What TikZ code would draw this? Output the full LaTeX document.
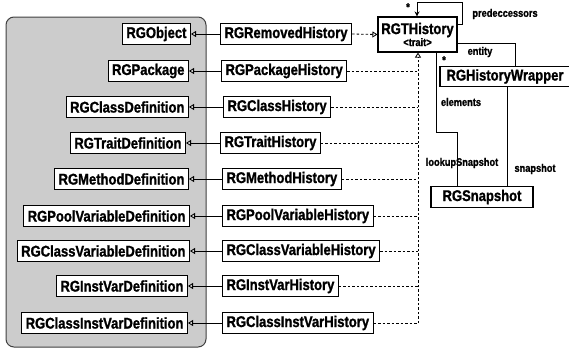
\documentclass[tikz,border=0pt]{standalone}
\usepackage{fontspec}
\setmainfont{Liberation Sans}[FakeStretch=0.84, BoldFeatures={FakeBold=1.2}]
\usetikzlibrary{arrows.meta}
\definecolor{pkggray}{RGB}{204,204,204}
\begin{document}
\begin{tikzpicture}[x=1pt,y=1pt,
  cls/.style={draw, line width=1.1pt, fill=white, inner xsep=4pt, inner ysep=0pt,
    minimum height=20.5pt, font=\fontsize{15.5}{16}\selectfont\bfseries},
  lbl/.style={inner sep=0pt, font=\fontsize{11}{12}\selectfont\bfseries},
  inh/.style={line width=0.8pt, -{Triangle[open, length=5pt, width=6pt]}},
  impl/.style={line width=0.8pt, dash pattern=on 2.5pt off 2pt},
  assoc/.style={line width=0.8pt}]
\useasboundingbox (0,0) rectangle (569,-349);
\draw[line width=1pt, draw=black!75, fill=pkggray, rounded corners=8pt] (6,-17) rectangle (206,-347);

% definitions (left)
\node[cls, anchor=east] (d1) at (191,-34) {RGObject};
\node[cls, anchor=east] (d2) at (189,-71) {RGPackage};
\node[cls, anchor=east] (d3) at (189,-107) {RGClassDefinition};
\node[cls, anchor=east] (d4) at (186,-143) {RGTraitDefinition};
\node[cls, anchor=east] (d5) at (189,-179) {RGMethodDefinition};
\node[cls, anchor=east] (d6) at (190,-216) {RGPoolVariableDefinition};
\node[cls, anchor=east] (d7) at (190,-251) {RGClassVariableDefinition};
\node[cls, anchor=east] (d8) at (188,-286) {RGInstVarDefinition};
\node[cls, anchor=east] (d9) at (188,-323) {RGClassInstVarDefinition};

% histories
\node[cls, anchor=west] (h1) at (220,-34) {RGRemovedHistory};
\node[cls, anchor=west] (h2) at (221,-71) {RGPackageHistory};
\node[cls, anchor=west] (h3) at (223,-107) {RGClassHistory};
\node[cls, anchor=west] (h4) at (220,-143) {RGTraitHistory};
\node[cls, anchor=west] (h5) at (222,-179) {RGMethodHistory};
\node[cls, anchor=west] (h6) at (222,-216) {RGPoolVariableHistory};
\node[cls, anchor=west] (h7) at (222,-251) {RGClassVariableHistory};
\node[cls, anchor=west] (h8) at (222,-286) {RGInstVarHistory};
\node[cls, anchor=west] (h9) at (222,-323) {RGClassInstVarHistory};

\foreach \i in {1,...,9} { \draw[inh] (h\i.west) -- (d\i.east); }

% trait
\node[draw, line width=1.1pt, fill=white, minimum width=79pt, minimum height=35pt, inner sep=0pt, align=center] (rgt) at (417.5,-34.5)
  {{\fontsize{15.5}{14}\selectfont\bfseries RGTHistory}\\[0pt]{\fontsize{11}{11}\selectfont\bfseries <trait>}};

\draw[impl, -{Triangle[open, length=5pt, width=6pt]}] (h1.east) -- (rgt.west);
\coordinate (bus) at (418,-323);
\foreach \i in {2,...,9} { \draw[impl] (h\i.east) -- (h\i.east -| bus); }
\draw[impl, -{Triangle[open, length=5pt, width=6pt]}] (bus) -- (bus |- rgt.south);

% predecessors loop
\coordinate (lp1) at (462,-24);
\coordinate (lp2) at (462,-2);
\coordinate (lp3) at (417,-2);
\draw[assoc, -{Stealth[length=5pt, width=5pt]}] (rgt.east |- lp1) -- (lp1) -- (lp2) -- (lp3) -- (lp3 |- rgt.north);
\node[lbl] (star1) at (408,-7) {*};
\node[lbl] (pred) at (505,-14) {predeccessors};

% wrapper
\node[cls, minimum width=130pt] (wrap) at (505,-76.5) {RGHistoryWrapper};
\coordinate (en) at (515,-43);
\draw[assoc] (rgt.east |- en) -- (en) -- (en |- wrap.north);
\node[lbl] (entity) at (480,-52) {entity};
\node[lbl] (star2) at (444,-60) {*};

% snapshot
\node[cls, minimum width=102pt] (snap) at (482,-197) {RGSnapshot};
\coordinate (e1) at (436,-132);
\coordinate (e2) at (457,-132);
\draw[assoc] (e1 |- rgt.south) -- (e1) -- (e2) -- (e2 |- snap.north);
\node[lbl] (elements) at (461,-102) {elements};
\node[lbl] (lookup) at (462,-163) {lookupSnapshot};
\coordinate (s1) at (507,0);
\draw[assoc] (s1 |- wrap.south) -- (s1 |- snap.north);
\node[lbl] (snaplbl) at (535,-169) {snapshot};
\end{tikzpicture}
\end{document}
